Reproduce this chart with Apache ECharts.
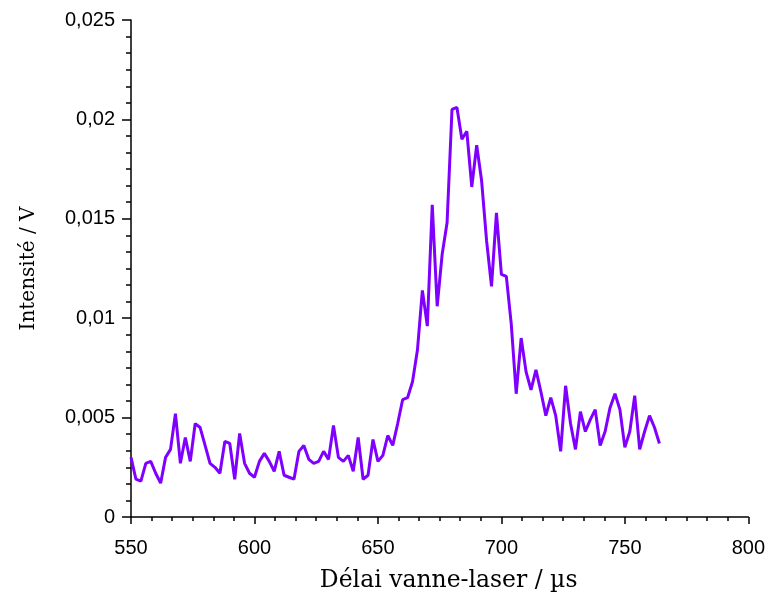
<!DOCTYPE html>
<html>
<head>
<meta charset="utf-8">
<script src="https://cdn.jsdelivr.net/npm/echarts@6/dist/echarts.min.js"></script>
<style>html,body{margin:0;padding:0;background:#fff;}#c{width:768px;height:599px;}</style>
</head>
<body>
<div id="c"></div>
<script>
const xTitle = 'Délai vanne-laser / µs';
const yTitle = 'Intensité / V';
const xValues = [550,552,554,556,558,560,562,564,566,568,570,572,574,576,578,580,582,584,586,588,590,592,594,596,598,600,602,604,606,608,610,612,614,616,618,620,622,624,626,628,630,632,634,636,638,640,642,644,646,648,650,652,654,656,658,660,662,664,666,668,670,672,674,676,678,680,682,684,686,688,690,692,694,696,698,700,702,704,706,708,710,712,714,716,718,720,722,724,726,728,730,732,734,736,738,740,742,744,746,748,750,752,754,756,758,760,762,764];
const intensity = [0.0030,0.0019,0.0018,0.0027,0.0028,0.0022,0.0017,0.0030,0.0034,0.0052,0.0027,0.0040,0.0028,0.0047,0.0045,0.0036,0.0027,0.0025,0.0022,0.0038,0.0037,0.0019,0.0042,0.0027,0.0022,0.0020,0.0028,0.0032,0.0028,0.0023,0.0033,0.0021,0.0020,0.0019,0.0033,0.0036,0.0029,0.0027,0.0028,0.0033,0.0029,0.0046,0.0030,0.0028,0.0031,0.0023,0.0040,0.0019,0.0021,0.0039,0.0028,0.0031,0.0041,0.0036,0.0047,0.0059,0.0060,0.0068,0.0084,0.0114,0.0096,0.0157,0.0106,0.0132,0.0148,0.0205,0.0206,0.0190,0.0194,0.0166,0.0187,0.0169,0.0139,0.0116,0.0153,0.0122,0.0121,0.0097,0.0062,0.0090,0.0073,0.0064,0.0074,0.0063,0.0051,0.0060,0.0051,0.0033,0.0066,0.0047,0.0034,0.0053,0.0043,0.0049,0.0054,0.0036,0.0043,0.0055,0.0062,0.0054,0.0035,0.0043,0.0061,0.0034,0.0043,0.0051,0.0045,0.0037];
const xTicks = {min: 550, max: 800, interval: 50};
const yTicks = {min: 0, max: 0.025, interval: 0.005};

const chart = echarts.init(document.getElementById('c'), null, {renderer: 'canvas'});
const labelFont = {color: '#000', fontFamily: "'Liberation Sans', Arial, sans-serif", fontSize: 20};
chart.setOption({
  animation: false,
  backgroundColor: '#fff',
  grid: {left: 131, right: 19, top: 20, bottom: 82, containLabel: false},
  xAxis: {
    type: 'value', min: xTicks.min, max: xTicks.max, interval: xTicks.interval,
    name: xTitle, nameLocation: 'middle', nameGap: 52,
    nameTextStyle: {color: '#000', fontFamily: "'DejaVu Serif', serif", fontSize: 23.5, padding: [0, 0, 0, 18]},
    axisLine: {show: true, lineStyle: {color: '#000', width: 1.5}},
    axisTick: {show: true, inside: false, length: 7, lineStyle: {color: '#000', width: 1.5}},
    minorTick: {show: true, splitNumber: 6, length: 4, lineStyle: {color: '#000', width: 1.5}},
    axisLabel: Object.assign({margin: 21}, labelFont),
    splitLine: {show: false}
  },
  yAxis: {
    type: 'value', min: yTicks.min, max: yTicks.max, interval: yTicks.interval,
    name: yTitle, nameLocation: 'middle', nameGap: 92,
    nameTextStyle: {color: '#000', fontFamily: "'DejaVu Serif', serif", fontSize: 20},
    axisLine: {show: true, lineStyle: {color: '#000', width: 1.5}},
    axisTick: {show: true, inside: false, length: 9, lineStyle: {color: '#000', width: 1.5}},
    minorTick: {show: true, splitNumber: 6, length: 5, lineStyle: {color: '#000', width: 1.5}},
    axisLabel: Object.assign({margin: 16, formatter: v => String(+v.toFixed(4)).replace('.', ',')}, labelFont),
    splitLine: {show: false}
  },
  series: [{
    type: 'line',
    data: xValues.map((x, i) => [x, intensity[i]]),
    showSymbol: false,
    lineStyle: {color: '#8000ff', width: 3},
    itemStyle: {color: '#8000ff'}
  }]
});
</script>
</body>
</html>
